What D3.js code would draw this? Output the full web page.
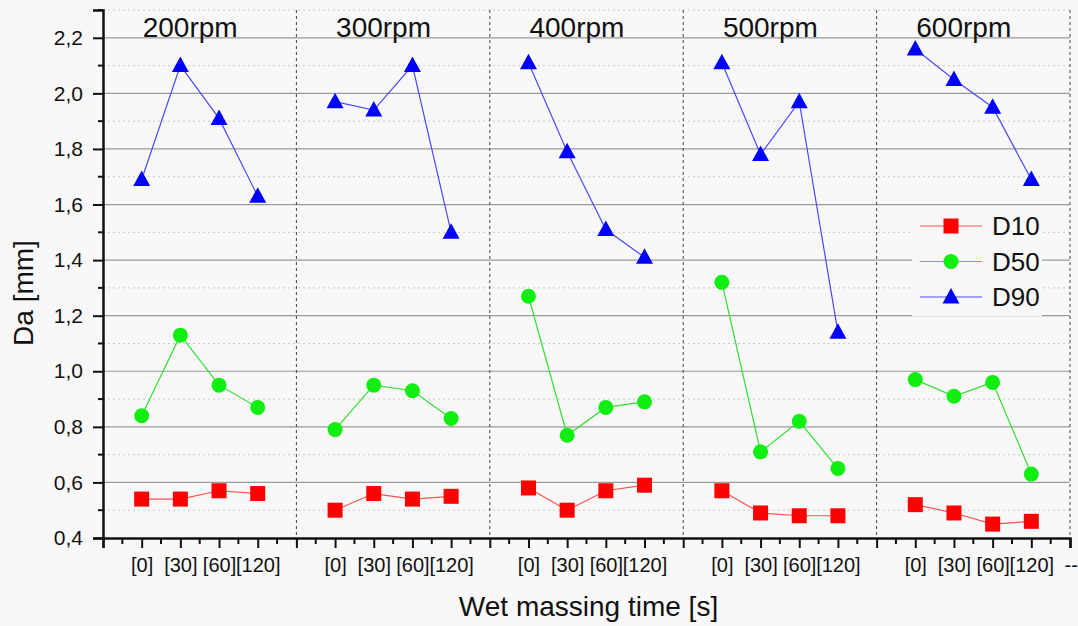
<!DOCTYPE html>
<html>
<head>
<meta charset="utf-8">
<script src="https://cdn.jsdelivr.net/npm/d3@7"></script>
<style>
  body { margin: 0; background: #f8f8f8; font-family: Arial, "Liberation Sans", sans-serif; }
  svg text { fill: #111; }
</style>
</head>
<body>
<svg id="chart" width="1078" height="626"></svg>
<script>
// speeds (one panel each) and wet massing times
var speeds = ["200rpm", "300rpm", "400rpm", "500rpm", "600rpm"];
var times = ["[0]", "[30]", "[60]", "[120]"];

// values per panel
var d10 = [
  [0.54, 0.54, 0.57, 0.56],
  [0.50, 0.56, 0.54, 0.55],
  [0.58, 0.50, 0.57, 0.59],
  [0.57, 0.49, 0.48, 0.48],
  [0.52, 0.49, 0.45, 0.46]
];
var d50 = [
  [0.84, 1.13, 0.95, 0.87],
  [0.79, 0.95, 0.93, 0.83],
  [1.27, 0.77, 0.87, 0.89],
  [1.32, 0.71, 0.82, 0.65],
  [0.97, 0.91, 0.96, 0.63]
];
var d90 = [
  [1.69, 2.10, 1.91, 1.63],
  [1.97, 1.94, 2.10, 1.50],
  [2.11, 1.79, 1.51, 1.41],
  [2.11, 1.78, 1.97, 1.14],
  [2.16, 2.05, 1.95, 1.69]
];

var yMajor = [0.4, 0.6, 0.8, 1.0, 1.2, 1.4, 1.6, 1.8, 2.0, 2.2];

var series = [
  {name: "D10", values: d10, color: "#ff0000", line: "#ff5050", shape: "square"},
  {name: "D50", values: d50, color: "#11ee11", line: "#33dd33", shape: "circle"},
  {name: "D90", values: d90, color: "#0000ff", line: "#4a4aff", shape: "triangle"}
];

var svg = d3.select("#chart");
var mLeft = 103, mRight = 1070, mTop = 10, mBottom = 538;

var x = d3.scaleLinear().domain([0, 50]).range([mLeft, mRight]);
var y = d3.scaleLinear().domain([0.4, 2.3]).range([mBottom, mTop]);

function pos(p, i) { return p * 10 + 2 + i * 2; }

// grid
var minorY = d3.range(0.5, 2.31, 0.2);
svg.append("g").selectAll("line").data(minorY).enter().append("line")
  .attr("x1", mLeft).attr("x2", mRight)
  .attr("y1", d => y(d)).attr("y2", d => y(d))
  .attr("stroke", "#c8c8c8").attr("stroke-dasharray", "2,3");
svg.append("g").selectAll("line").data(yMajor.slice(1)).enter().append("line")
  .attr("x1", mLeft).attr("x2", mRight)
  .attr("y1", d => y(d)).attr("y2", d => y(d))
  .attr("stroke", "#9a9a9a").attr("stroke-width", 1.2);

// panel separators
svg.append("g").selectAll("line").data([10, 20, 30, 40, 50]).enter().append("line")
  .attr("x1", d => x(d)).attr("x2", d => x(d))
  .attr("y1", mTop).attr("y2", mBottom)
  .attr("stroke", "#444").attr("stroke-dasharray", "3,3");

// y axis
var yAxis = svg.append("g").attr("transform", "translate(" + mLeft + ",0)")
  .call(d3.axisLeft(y).tickValues(yMajor).tickSize(10).tickPadding(10)
    .tickFormat(d => d3.format(".1f")(d).replace(".", ",")));
yAxis.select(".domain").attr("stroke", "#111").attr("stroke-width", 2.5);
yAxis.selectAll(".tick line").attr("stroke", "#111").attr("stroke-width", 2);
yAxis.selectAll("text").style("font-size", "21px").style("fill", "#111");
yAxis.append("g").selectAll("line").data(minorY).enter().append("line")
  .attr("x1", -5).attr("x2", 0).attr("y1", d => y(d)).attr("y2", d => y(d))
  .attr("stroke", "#111").attr("stroke-width", 2);

// x axis
var xMajor = d3.range(0, 51, 2);
var xAxis = svg.append("g").attr("transform", "translate(0," + mBottom + ")")
  .call(d3.axisBottom(x).tickValues(xMajor).tickSize(10).tickPadding(10)
    .tickFormat(function(d) {
      if (d === 50) return "--";
      var k = d % 10;
      return k === 0 ? "" : times[k / 2 - 1];
    }));
xAxis.select(".domain").attr("stroke", "#111").attr("stroke-width", 2.5);
xAxis.selectAll(".tick line").attr("stroke", "#111").attr("stroke-width", 2);
xAxis.selectAll("text").style("font-size", "20px").style("fill", "#111");
xAxis.selectAll(".tick").filter(d => d === 50).select("text")
  .attr("text-anchor", "start").attr("dx", -6);
xAxis.append("g").selectAll("line").data(d3.range(1, 50, 2)).enter().append("line")
  .attr("x1", d => x(d)).attr("x2", d => x(d)).attr("y1", 0).attr("y2", 6)
  .attr("stroke", "#111").attr("stroke-width", 2);

// panel titles
svg.append("g").selectAll("text").data(speeds).enter().append("text")
  .attr("x", (d, p) => x(pos(p, 0)) + 1)
  .attr("y", 37)
  .style("font-size", "28px")
  .text(d => d);

// axis titles
svg.append("text").attr("x", (mLeft + mRight) / 2 + 2).attr("y", 616)
  .attr("text-anchor", "middle").style("font-size", "28px").text("Wet massing time [s]");
svg.append("text").attr("transform", "translate(33,293) rotate(-90)")
  .attr("text-anchor", "middle").style("font-size", "28px").text("Da [mm]");

function marker(g, shape, color) {
  if (shape === "square") {
    g.append("rect").attr("x", -7.5).attr("y", -7.5).attr("width", 15).attr("height", 15).attr("fill", color);
  } else if (shape === "circle") {
    g.append("circle").attr("r", 7.5).attr("fill", color);
  } else {
    g.append("path").attr("d", "M0,-9L8.5,6.5L-8.5,6.5Z").attr("fill", color);
  }
}

// lines and markers
series.forEach(function(s) {
  var g = svg.append("g");
  s.values.forEach(function(vals, p) {
    var pts = vals.map((v, i) => [x(pos(p, i)), y(v)]);
    g.append("path").attr("d", d3.line()(pts))
      .attr("fill", "none").attr("stroke", s.line).attr("stroke-width", 1.2);
    pts.forEach(function(pt) {
      marker(g.append("g").attr("transform", "translate(" + pt[0] + "," + pt[1] + ")"), s.shape, s.color);
    });
  });
});

// legend
var lg = svg.append("g").attr("transform", "translate(912,206)");
lg.append("rect").attr("width", 130).attr("height", 110).attr("fill", "#f8f8f8");
series.forEach(function(s, i) {
  var row = lg.append("g").attr("transform", "translate(0," + (20 + i * 35.5) + ")");
  row.append("line").attr("x1", 8).attr("x2", 70).attr("stroke", s.line).attr("stroke-width", 1.2);
  marker(row.append("g").attr("transform", "translate(39,0)"), s.shape, s.color);
  row.append("text").attr("x", 80).attr("y", 9).style("font-size", "26px").text(s.name);
});
</script>
</body>
</html>
